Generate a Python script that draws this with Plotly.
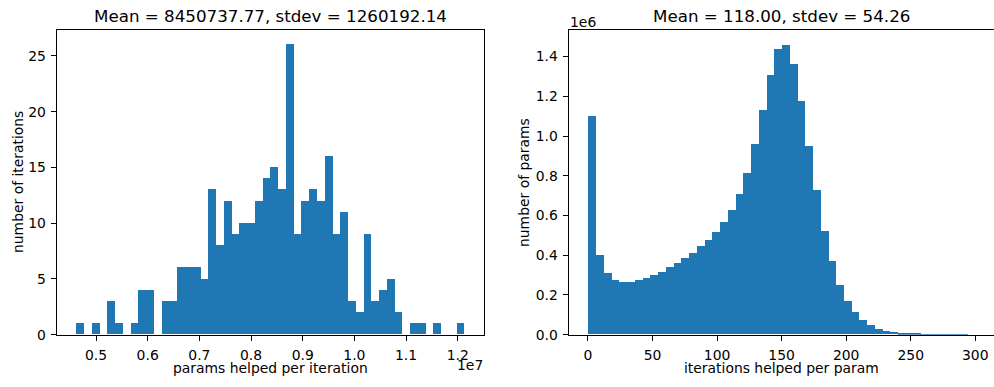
import plotly.graph_objects as go

# ---- histogram data -------------------------------------------------------
# Left: params helped per iteration (300 iterations, 50 bins)
iter_bin_start = 4613000.0
iter_bin_width = 150200.0
iter_counts = [1, 0, 1, 0, 3, 1, 0, 1, 4, 4,
               0, 3, 3, 6, 6, 6, 5, 13, 8, 12,
               9, 10, 10, 12, 14, 15, 13, 26, 9, 12,
               13, 12, 16, 9, 11, 3, 2, 9, 3, 4,
               5, 2, 0, 1, 1, 0, 1, 0, 0, 1]
iter_title = "Mean = 8450737.77, stdev = 1260192.14"

# Right: iterations helped per param (50 bins over 0..300)
param_bin_start = 0.0
param_bin_width = 6.0
param_counts = [1.099e6, 0.398e6, 0.309e6, 0.275e6, 0.265e6, 0.265e6, 0.275e6, 0.285e6, 0.299e6, 0.314e6,
                0.339e6, 0.359e6, 0.383e6, 0.408e6, 0.442e6, 0.477e6, 0.516e6, 0.566e6, 0.625e6, 0.704e6,
                0.812e6, 0.956e6, 1.128e6, 1.306e6, 1.434e6, 1.459e6, 1.360e6, 1.173e6, 0.946e6, 0.724e6,
                0.521e6, 0.368e6, 0.250e6, 0.168e6, 0.112e6, 0.074e6, 0.048e6, 0.028e6, 0.018e6, 0.013e6,
                0.008e6, 0.004e6, 0.002e6, 0.001e6, 0.0005e6, 0.0003e6, 0.0001e6, 0.00005e6, 0.00002e6, 0.00001e6]
param_title = "Mean = 118.00, stdev = 54.26"

left_xticks = [0.5e7, 0.6e7, 0.7e7, 0.8e7, 0.9e7, 1.0e7, 1.1e7, 1.2e7]
left_xtext = ["0.5", "0.6", "0.7", "0.8", "0.9", "1.0", "1.1", "1.2"]
left_yticks = [0, 5, 10, 15, 20, 25]
right_xticks = [0, 50, 100, 150, 200, 250, 300]
right_yticks = [0, 0.2e6, 0.4e6, 0.6e6, 0.8e6, 1.0e6, 1.2e6, 1.4e6]
right_ytext = ["0.0", "0.2", "0.4", "0.6", "0.8", "1.0", "1.2", "1.4"]

# ---- figure geometry (pixels) ---------------------------------------------
W, H = 994, 387
FONT = "DejaVu Sans"
BLUE = "#1f77b4"
ax_top, ax_bot = 31.0, 341.7
left_l, left_r = 56.6, 483.5
right_l = 568.6


def px_x(p):
    return p / W


def px_y(p):
    return 1 - p / H


iter_centers = [iter_bin_start + iter_bin_width * (i + 0.5) for i in range(len(iter_counts))]
param_centers = [param_bin_start + param_bin_width * (i + 0.5) for i in range(len(param_counts))]

fig = go.Figure()
fig.add_trace(go.Bar(x=iter_centers, y=iter_counts, width=iter_bin_width,
                     marker=dict(color=BLUE, line=dict(width=0)),
                     xaxis="x", yaxis="y", showlegend=False))
fig.add_trace(go.Bar(x=param_centers, y=param_counts, width=param_bin_width,
                     marker=dict(color=BLUE, line=dict(width=0)),
                     xaxis="x2", yaxis="y2", showlegend=False))

tickfont = dict(family=FONT, size=13.9, color="black")
common = dict(showgrid=False, zeroline=False, showline=True, linecolor="black", linewidth=1.1,
              ticks="outside", ticklen=4.9, tickwidth=1.1, tickcolor="black", tickfont=tickfont)
xcommon = dict(ticklabelstandoff=3, **common)
ycommon = dict(ticklabelstandoff=2, **common)

ydom = [px_y(ax_bot), px_y(ax_top)]
fig.update_layout(
    width=W, height=H, autosize=False,
    margin=dict(l=0, r=0, t=0, b=0),
    paper_bgcolor="white", plot_bgcolor="white",
    bargap=0,
    xaxis=dict(domain=[px_x(left_l), px_x(left_r)], range=[0.42375e7, 1.24995e7],
               tickvals=left_xticks, ticktext=left_xtext, mirror=True, anchor="y", **xcommon),
    yaxis=dict(domain=ydom, range=[0, 27.3], tickvals=left_yticks, mirror=True,
               anchor="x", **ycommon),
    xaxis2=dict(domain=[px_x(right_l), 1.0], range=[-15, 314.5], tickvals=right_xticks,
                mirror=True, anchor="y2", **xcommon),
    yaxis2=dict(domain=ydom, range=[0, 1.532e6], tickvals=right_yticks, ticktext=right_ytext,
                mirror=False, anchor="x2", **ycommon),
)

title_font = dict(family=FONT, size=16.7, color="black")
label_font = dict(family=FONT, size=13.9, color="black")
ann = []
# subplot titles
ann.append(dict(text=iter_title, x=px_x((left_l + left_r) / 2), y=px_y(16.3), xanchor="center",
                yanchor="middle", font=title_font))
ann.append(dict(text=param_title, x=px_x(781.6), y=px_y(16.3), xanchor="center",
                yanchor="middle", font=title_font))
# axis labels
ann.append(dict(text="params helped per iteration", x=px_x((left_l + left_r) / 2), y=px_y(376.0),
                xanchor="center", yanchor="middle", font=label_font))
ann.append(dict(text="iterations helped per param", x=px_x(781.6), y=px_y(376.0),
                xanchor="center", yanchor="middle", font=label_font))
ann.append(dict(text="number of iterations", x=px_x(18.5), y=px_y((ax_top + ax_bot) / 2),
                xanchor="center", yanchor="middle", textangle=-90, font=label_font))
ann.append(dict(text="number of params", x=px_x(524.5), y=px_y((ax_top + ax_bot) / 2),
                xanchor="center", yanchor="middle", textangle=-90, font=label_font))
# scale offset labels
ann.append(dict(text="1e7", x=px_x(left_r), y=px_y(373.0), xanchor="right",
                yanchor="middle", font=label_font))
ann.append(dict(text="1e6", x=px_x(right_l), y=px_y(22.0), xanchor="left",
                yanchor="middle", font=label_font))
for a in ann:
    a.update(xref="paper", yref="paper", showarrow=False, borderpad=0)
fig.update_layout(annotations=ann)

# pin the page to exactly the figure size: no body margin, nothing overflowing
page_fit = (
    "var r=document.documentElement.style, b=document.body.style;"
    "r.margin='0'; r.padding='0'; r.width='994px'; r.height='387px'; r.overflow='hidden';"
    "b.margin='0'; b.padding='0'; b.width='994px'; b.height='387px'; b.overflow='hidden';"
    "window.scrollTo(0,0);"
)
fig.write_html("out.html", post_script=page_fit)
